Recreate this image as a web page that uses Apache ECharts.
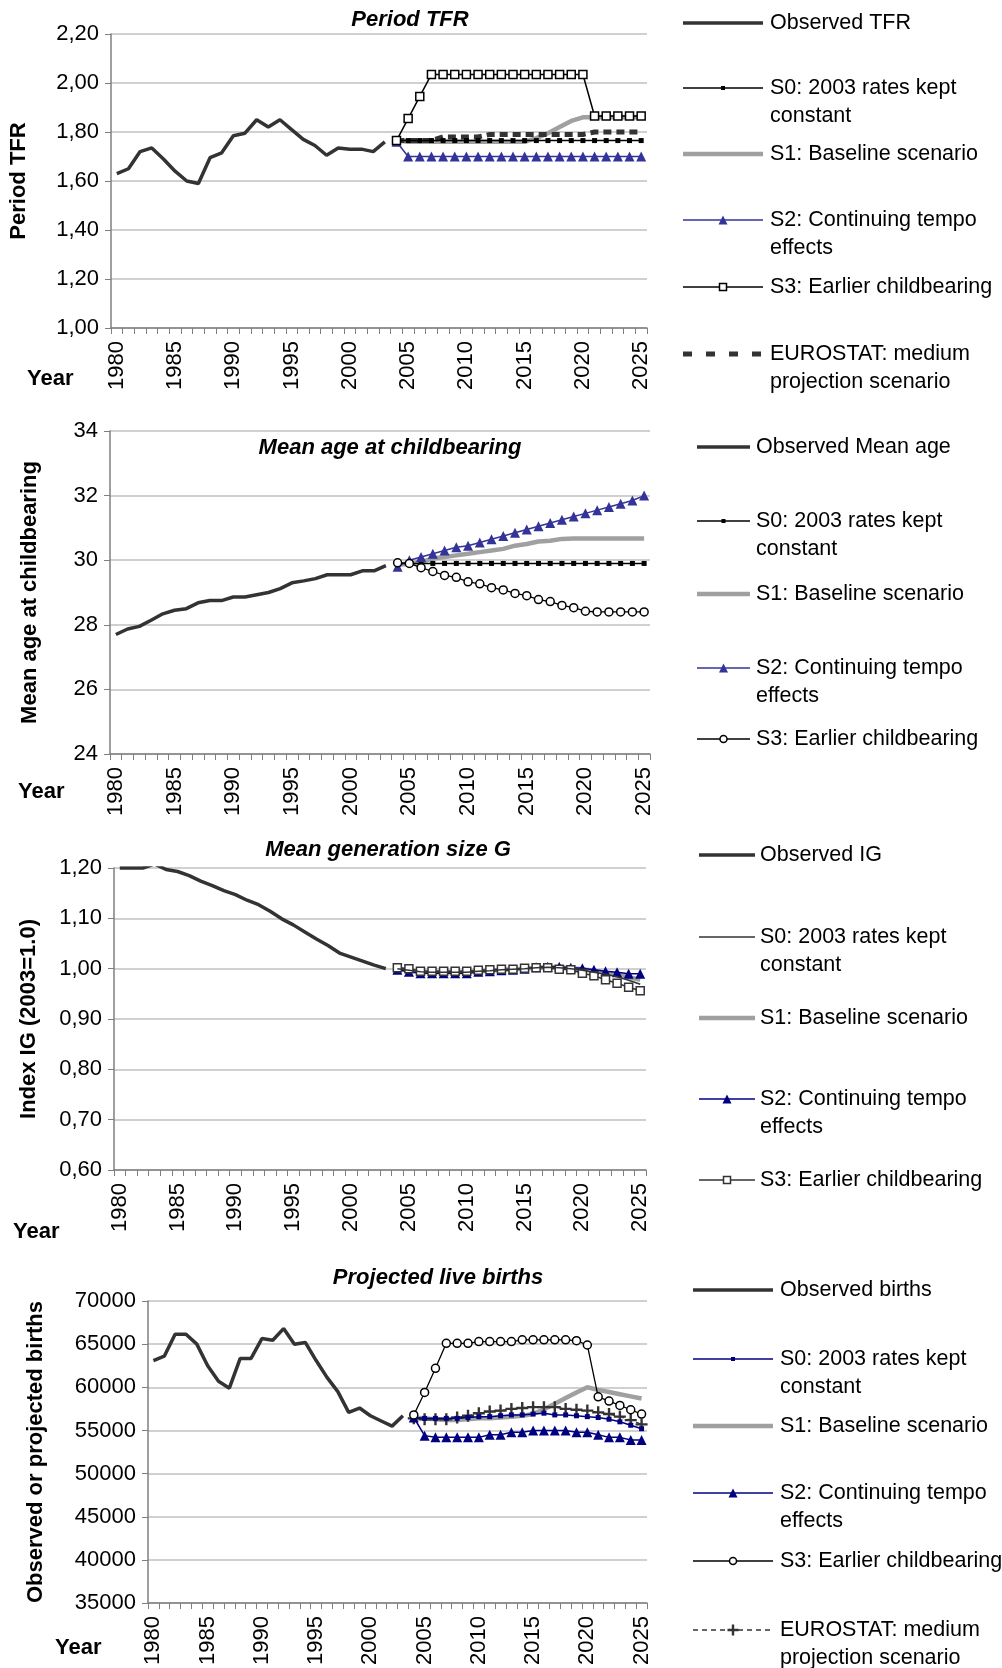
<!DOCTYPE html>
<html><head><meta charset="utf-8">
<script src="https://cdn.jsdelivr.net/npm/echarts@6/dist/echarts.min.js"></script>
<style>html,body{margin:0;padding:0;background:#fff}#c{width:1002px;height:1668px}</style>
</head><body><div id="c"></div>
<script>
const FONT = "'Liberation Sans', Arial, sans-serif";

// ---------- categories ----------
const years = ['1980','1981','1982','1983','1984','1985','1986','1987','1988','1989',
  '1990','1991','1992','1993','1994','1995','1996','1997','1998','1999',
  '2000','2001','2002','2003','2004','2005','2006','2007','2008','2009',
  '2010','2011','2012','2013','2014','2015','2016','2017','2018','2019',
  '2020','2021','2022','2023','2024','2025'];
const obsYears = years.slice(0, 24);   // 1980-2003
const projYears = years.slice(24);     // 2004-2025

// ---------- Panel 1: Period TFR ----------
const tfrObserved = [1.63,1.65,1.72,1.735,1.69,1.64,1.60,1.59,1.695,1.715,1.785,1.795,1.85,1.82,1.85,1.81,1.77,1.745,1.705,1.735,1.73,1.73,1.72,1.76];
const tfrS0 = [1.765,1.765,1.765,1.765,1.765,1.765,1.765,1.765,1.765,1.765,1.765,1.765,1.765,1.765,1.765,1.765,1.765,1.765,1.765,1.765,1.765,1.765];
const tfrS1 = [1.765,1.76,1.76,1.76,1.76,1.76,1.76,1.76,1.76,1.76,1.76,1.76,1.775,1.795,1.82,1.845,1.86,1.86,1.86,1.86,1.86,1.86];
const tfrS2 = [1.76,1.70,1.70,1.70,1.70,1.70,1.70,1.70,1.70,1.70,1.70,1.70,1.70,1.70,1.70,1.70,1.70,1.70,1.70,1.70,1.70,1.70];
const tfrS3 = [1.765,1.855,1.945,2.035,2.035,2.035,2.035,2.035,2.035,2.035,2.035,2.035,2.035,2.035,2.035,2.035,2.035,1.865,1.865,1.865,1.865,1.865];
const tfrEurostat = [1.765,1.765,1.765,1.765,1.78,1.78,1.78,1.78,1.79,1.79,1.79,1.79,1.79,1.79,1.79,1.79,1.79,1.80,1.80,1.80,1.80,1.80];

// ---------- Panel 2: Mean age at childbearing ----------
const ageObserved = [27.7,27.87,27.95,28.14,28.34,28.45,28.5,28.68,28.75,28.75,28.86,28.86,28.93,29.0,29.12,29.3,29.36,29.43,29.55,29.55,29.55,29.67,29.67,29.83];
const ageS0 = [29.9,29.9,29.9,29.9,29.9,29.9,29.9,29.9,29.9,29.9,29.9,29.9,29.9,29.9,29.9,29.9,29.9,29.9,29.9,29.9,29.9,29.9];
const ageS1 = [29.85,29.9,29.95,30.05,30.1,30.15,30.2,30.25,30.3,30.35,30.45,30.5,30.58,30.6,30.66,30.67,30.67,30.67,30.67,30.67,30.67,30.67];
const ageS2 = [29.8,30.0,30.1,30.2,30.3,30.4,30.45,30.55,30.65,30.75,30.85,30.95,31.05,31.15,31.25,31.35,31.45,31.55,31.65,31.75,31.85,32.0];
const ageS3 = [29.92,29.9,29.77,29.65,29.53,29.47,29.33,29.27,29.15,29.08,28.97,28.9,28.78,28.72,28.6,28.53,28.42,28.4,28.4,28.4,28.4,28.4];

// ---------- Panel 3: Mean generation size G ----------
const igObserved = [1.20,1.20,1.20,1.208,1.197,1.193,1.185,1.174,1.165,1.155,1.147,1.136,1.127,1.114,1.099,1.087,1.073,1.059,1.046,1.031,1.023,1.015,1.007,1.00];
const igS0 = [1.0,0.997,0.994,0.993,0.993,0.993,0.993,0.995,0.996,0.998,0.999,1.0,1.002,1.003,1.002,1.0,0.997,0.993,0.989,0.984,0.977,0.969];
const igS1 = [1.0,0.997,0.994,0.993,0.993,0.993,0.993,0.995,0.996,0.998,0.999,1.0,1.002,1.003,1.003,1.001,0.999,0.996,0.992,0.988,0.983,0.978];
const igS2 = [0.998,0.994,0.991,0.991,0.991,0.991,0.991,0.994,0.995,0.997,0.998,1.0,1.003,1.004,1.004,1.002,1.001,0.998,0.995,0.993,0.99,0.99];
const igS3 = [1.002,1.0,0.995,0.995,0.995,0.995,0.995,0.997,0.998,0.999,0.999,1.001,1.002,1.002,0.999,0.998,0.991,0.986,0.978,0.971,0.963,0.956];

// ---------- Panel 4: Projected live births ----------
const birthsObserved = [63100,63600,66150,66150,65000,62500,60700,59900,63350,63350,65650,65450,66800,65000,65200,63100,61150,59500,57100,57600,56700,56100,55500,56700];
const birthsS0 = [56500,56400,56400,56400,56400,56500,56600,56600,56700,56800,56800,56900,57000,56800,56800,56700,56600,56500,56300,56000,55600,55200];
const birthsS1 = [56500,56400,56300,56200,56200,56300,56400,56400,56500,56600,56700,56900,57450,58100,58750,59400,60000,59700,59450,59200,58950,58700];
const birthsS2 = [56500,54400,54200,54200,54200,54200,54200,54500,54500,54800,54800,55000,55000,55000,55000,54800,54800,54500,54200,54200,53900,53900];
const birthsS3 = [56800,59400,62200,65100,65100,65100,65300,65300,65300,65300,65500,65500,65500,65500,65500,65400,64900,58900,58400,57900,57400,56900];
const birthsEurostat = [56400,56300,56300,56300,56500,56700,57000,57200,57300,57500,57600,57700,57700,57700,57500,57400,57300,57100,56900,56600,56200,55700];

// ---------- labels ----------
const titles = ['Period TFR', 'Mean age at childbearing', 'Mean generation size G', 'Projected live births'];
const yNames = ['Period TFR', 'Mean age at childbearing', 'Index IG (2003=1.0)', 'Observed or projected births'];
const lblS0 = 'S0: 2003 rates kept\nconstant';
const lblS1 = 'S1: Baseline scenario';
const lblS2 = 'S2: Continuing tempo\neffects';
const lblS3 = 'S3: Earlier childbearing';
const lblEuro = 'EUROSTAT: medium\nprojection scenario';

// ---------- styles ----------
const PLUS = 'path://M4,0H6V4H10V6H6V10H4V6H0V4H4Z';
const ST = {
  obs:   {color:'#333333', width:3.5},
  s0k:   {color:'#000000', width:1.5, symbol:'rect', size:5, fill:'#000000'},
  s1:    {color:'#a0a0a0', width:4.5},
  s2p:   {color:'#333399', width:1.5, symbol:'triangle', size:10, fill:'#333399'},
  s3sq:  {color:'#000000', width:1.5, symbol:'rect', size:8, fill:'#ffffff', border:'#000000'},
  euro1: {color:'#333333', width:5, dash:[8,5], legendDash:[9,14]},
  s3c:   {color:'#000000', width:1.3, symbol:'circle', size:8, fill:'#ffffff', border:'#000000'},
  s0g:   {color:'#333333', width:1.5},
  s2n:   {color:'#000080', width:1.5, symbol:'triangle', size:10, fill:'#000080'},
  s3sqg: {color:'#333333', width:1.5, symbol:'rect', size:8, fill:'#ffffff', border:'#333333'},
  s0n:   {color:'#000080', width:1.5, symbol:'rect', size:5, fill:'#000080'},
  euro4: {color:'#333333', width:1.3, dash:[5,4], symbol:PLUS, legendSym:'plus', size:12, fill:'#333333'}
};

// ---------- layout ----------
const grids = [
  {left:111, top:34,   width:536, height:294},
  {left:110, top:431,  width:540, height:323},
  {left:114, top:868,  width:532, height:302},
  {left:148, top:1301, width:499, height:304}
];
const yCfg = [
  {min:1.0, max:2.2, interval:0.2, fmt:v=>v.toFixed(2).replace('.', ','), gap:81},
  {min:24, max:34, interval:2, fmt:v=>String(v), gap:69},
  {min:0.6, max:1.2, interval:0.1, fmt:v=>v.toFixed(2).replace('.', ','), gap:74},
  {min:35000, max:70000, interval:5000, fmt:v=>String(v), gap:101}
];
const titlePos = [[410,9],[390,437],[388,839],[438,1267]];
const yearPos = [[27,379],[18,792],[13,1232],[55,1648]];

function pairs(cats, vals){ return vals.map((v,i)=>[cats[i], v]); }

function mkSeries(g, name, cats, vals, st, z){
  return {
    type:'line', name, xAxisIndex:g, yAxisIndex:g, z:z||2,
    data: pairs(cats, vals), connectNulls:false, animation:false,
    lineStyle:{color:st.color, width:st.width, type: st.dash || 'solid'},
    symbol: st.symbol || 'none', symbolSize: st.size || 0,
    showSymbol: !!st.symbol, showAllSymbol: true,
    itemStyle:{color: st.fill || st.color, borderColor: st.border || st.fill || st.color, borderWidth: st.border ? 1.5 : 0},
    emphasis:{disabled:true}
  };
}

const series = [
  // panel 1
  mkSeries(0, 'Observed TFR', obsYears, tfrObserved, ST.obs, 2),
  mkSeries(0, lblS1, projYears, tfrS1, ST.s1, 2),
  mkSeries(0, lblEuro, projYears, tfrEurostat, ST.euro1, 3),
  mkSeries(0, lblS0, projYears, tfrS0, ST.s0k, 4),
  mkSeries(0, lblS2, projYears, tfrS2, ST.s2p, 5),
  mkSeries(0, lblS3, projYears, tfrS3, ST.s3sq, 6),
  // panel 2
  mkSeries(1, 'Observed Mean age', obsYears, ageObserved, ST.obs, 2),
  mkSeries(1, lblS1, projYears, ageS1, ST.s1, 2),
  mkSeries(1, lblS0, projYears, ageS0, ST.s0k, 4),
  mkSeries(1, lblS2, projYears, ageS2, ST.s2p, 5),
  mkSeries(1, lblS3, projYears, ageS3, ST.s3c, 6),
  // panel 3
  mkSeries(2, 'Observed IG', obsYears, igObserved, ST.obs, 2),
  mkSeries(2, lblS1, projYears, igS1, ST.s1, 2),
  mkSeries(2, lblS2, projYears, igS2, ST.s2n, 4),
  mkSeries(2, lblS3, projYears, igS3, ST.s3sqg, 5),
  mkSeries(2, lblS0, projYears, igS0, ST.s0g, 6),
  // panel 4
  mkSeries(3, 'Observed births', obsYears, birthsObserved, ST.obs, 2),
  mkSeries(3, lblEuro, projYears, birthsEurostat, ST.euro4, 3),
  mkSeries(3, lblS1, projYears, birthsS1, ST.s1, 3),
  mkSeries(3, lblS0, projYears, birthsS0, ST.s0n, 4),
  mkSeries(3, lblS2, projYears, birthsS2, ST.s2n, 5),
  mkSeries(3, lblS3, projYears, birthsS3, ST.s3c, 6)
];

const legends = [
  {x1:683, x2:763, tx:770, entries:[
    {y:23, label:'Observed TFR', st:ST.obs},
    {y:88, label:lblS0, st:ST.s0k},
    {y:154, label:lblS1, st:ST.s1},
    {y:220, label:lblS2, st:ST.s2p},
    {y:287, label:lblS3, st:ST.s3sq},
    {y:354, label:lblEuro, st:ST.euro1}]},
  {x1:697, x2:750, tx:756, entries:[
    {y:447, label:'Observed Mean age', st:ST.obs},
    {y:521, label:lblS0, st:ST.s0k},
    {y:594, label:lblS1, st:ST.s1},
    {y:668, label:lblS2, st:ST.s2p},
    {y:739, label:lblS3, st:ST.s3c}]},
  {x1:699, x2:755, tx:760, entries:[
    {y:855, label:'Observed IG', st:ST.obs},
    {y:937, label:lblS0, st:ST.s0g},
    {y:1018, label:lblS1, st:ST.s1},
    {y:1099, label:lblS2, st:ST.s2n},
    {y:1180, label:lblS3, st:ST.s3sqg}]},
  {x1:693, x2:773, tx:780, entries:[
    {y:1290, label:'Observed births', st:ST.obs},
    {y:1359, label:lblS0, st:ST.s0n},
    {y:1426, label:lblS1, st:ST.s1},
    {y:1493, label:lblS2, st:ST.s2n},
    {y:1561, label:lblS3, st:ST.s3c},
    {y:1630, label:lblEuro, st:ST.euro4}]}
];

function legendGraphics(cfg){
  const els = [];
  cfg.entries.forEach(e=>{
    const st = e.st, y = e.y, mx = (cfg.x1 + cfg.x2) / 2;
    els.push({type:'line', silent:true, shape:{x1:cfg.x1, y1:y, x2:cfg.x2, y2:y},
      style:{stroke:st.color, lineWidth:st.width, lineDash: st.legendDash || st.dash || null}});
    if (st.symbol){
      const s = st.size - 1, fill = st.fill, stroke = st.border || st.fill, lw = st.border ? 1.5 : 0;
      const sym = st.legendSym || st.symbol;
      if (sym === 'rect') els.push({type:'rect', silent:true, shape:{x:mx-s/2, y:y-s/2, width:s, height:s}, style:{fill, stroke, lineWidth:lw}});
      else if (sym === 'circle') els.push({type:'circle', silent:true, shape:{cx:mx, cy:y, r:s/2}, style:{fill, stroke, lineWidth:lw}});
      else if (sym === 'triangle') els.push({type:'polygon', silent:true, shape:{points:[[mx,y-s/2],[mx+s/2,y+s/2],[mx-s/2,y+s/2]]}, style:{fill}});
      else if (sym === 'plus') { const h = s/2, t = 1.2; els.push({type:'polygon', silent:true, shape:{points:[[mx-t,y-h],[mx+t,y-h],[mx+t,y-t],[mx+h,y-t],[mx+h,y+t],[mx+t,y+t],[mx+t,y+h],[mx-t,y+h],[mx-t,y+t],[mx-h,y+t],[mx-h,y-t],[mx-t,y-t]]}, style:{fill}}); }
    }
    els.push({type:'text', silent:true, x:cfg.tx, y:y-14,
      style:{text:e.label, fontSize:21.5, fontFamily:FONT, fill:'#000', lineHeight:28, verticalAlign:'top'}});
  });
  return els;
}

let graphic = [];
legends.forEach(l=>{ graphic = graphic.concat(legendGraphics(l)); });
yearPos.forEach(p=>{
  graphic.push({type:'text', silent:true, x:p[0], y:p[1],
    style:{text:'Year', fontSize:22, fontWeight:'bold', fontFamily:FONT, fill:'#000', verticalAlign:'middle'}});
});

const option = {
  animation:false,
  backgroundColor:'#ffffff',
  textStyle:{fontFamily:FONT},
  title: titles.map((t,i)=>({text:t, left:titlePos[i][0], top:titlePos[i][1], textAlign:'center', padding:0,
    textStyle:{fontSize:22, fontWeight:'bold', fontStyle:'italic', fontFamily:FONT, color:'#000'}})),
  grid: grids.map(g=>Object.assign({containLabel:false}, g)),
  xAxis: grids.map((g,i)=>({
    type:'category', gridIndex:i, data:years, boundaryGap:true,
    axisLine:{show:true, onZero:false, lineStyle:{color:'#7f7f7f', width:1.5}},
    axisTick:{show:true, interval:0, length:6, lineStyle:{color:'#7f7f7f', width:1}},
    axisLabel:{interval:4, rotate:90, margin:13, fontSize:22, color:'#000', fontFamily:FONT},
    splitLine:{show:false}
  })),
  yAxis: yCfg.map((c,i)=>({
    type:'value', gridIndex:i, min:c.min, max:c.max, interval:c.interval,
    axisLine:{show:true, lineStyle:{color:'#7f7f7f', width:1.5}},
    axisTick:{show:true, length:6, lineStyle:{color:'#7f7f7f'}},
    axisLabel:{formatter:c.fmt, fontSize:22, color:'#000', fontFamily:FONT, margin:12},
    splitLine:{show:true, lineStyle:{color:'#c0c0c0', width:1.5}},
    name:yNames[i], nameLocation:'middle', nameGap:c.gap,
    nameTextStyle:{fontSize:22, fontWeight:'bold', color:'#000', fontFamily:FONT}
  })),
  series,
  graphic
};

const chart = echarts.init(document.getElementById('c'), null, {renderer:'canvas'});
chart.setOption(option);
</script></body></html>
